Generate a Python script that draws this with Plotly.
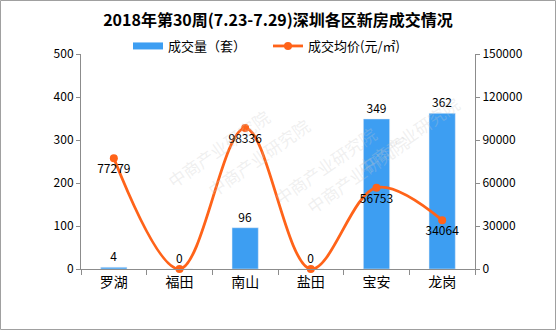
import plotly.graph_objects as go

districts = ["罗湖", "福田", "南山", "盐田", "宝安", "龙岗"]
volume = [4, 0, 96, 0, 349, 362]            # 成交量（套）
avg_price = [77279, 0, 98336, 0, 56753, 34064]  # 成交均价(元/㎡)

W, H = 556, 330
ml, mr, mt, mb = 81, 81, 54, 61
pw, ph = W - ml - mr, H - mt - mb

font_main = "Noto Sans CJK SC, Liberation Serif, serif"
axis_color = "#8c8c8c"
bar_color = "#3d9ef2"
line_color = "#ff6319"

fig = go.Figure()

fig.add_trace(go.Bar(
    x=districts, y=volume, name="成交量（套）", showlegend=False,
    marker_color=bar_color, width=0.4,
    text=[str(v) for v in volume], textposition="outside",
    textfont=dict(size=12, color="#000000"),
    cliponaxis=False,
    yaxis="y",
))
# legend key for the bars drawn as a wide flat swatch
fig.add_trace(go.Scatter(
    x=[None], y=[None], name="成交量（套）", mode="lines",
    line=dict(color=bar_color, width=7), yaxis="y",
))

fig.add_trace(go.Scatter(
    x=districts, y=avg_price, name="成交均价(元/㎡)",
    mode="lines+markers+text",
    line=dict(color=line_color, width=2.8, shape="spline", smoothing=1.0),
    marker=dict(color=line_color, size=8),
    text=[str(v) if v else "" for v in avg_price],
    textposition="bottom center",
    textfont=dict(size=12, color="#000000"),
    cliponaxis=False,
    yaxis="y2",
))

# light watermark text
wm = [(0.20, 0.78), (0.62, 0.70), (0.98, 0.62), (0.45, 0.30), (0.85, 0.22)]
annotations = []
for x, y in wm:
    annotations.append(dict(
        x=x, y=y, xref="paper", yref="paper", text="中商产业研究院",
        showarrow=False, textangle=-35,
        font=dict(size=17, color="rgba(200,200,200,0.28)", family=font_main),
    ))

fig.update_layout(
    width=W, height=H,
    margin=dict(l=ml, r=mr, t=mt, b=mb),
    paper_bgcolor="white", plot_bgcolor="white",
    font=dict(family=font_main, size=12, color="#000000"),
    title=dict(text="<b>2018年第30周(7.23-7.29)深圳各区新房成交情况</b>",
               x=0.5, xanchor="center", y=1 - 20 / H, yanchor="middle",
               font=dict(size=16, color="#000000")),
    showlegend=True,
    legend=dict(orientation="h", x=(128 - ml) / pw, xanchor="left", y=1 + 8 / ph, yanchor="middle",
                font=dict(size=13), bgcolor="rgba(0,0,0,0)", itemwidth=30,
                entrywidth=95, traceorder="normal"),
    bargap=0.6,
    xaxis=dict(
        type="category", showline=True, linecolor=axis_color, linewidth=1,
        ticks="outside", tickson="boundaries", ticklen=5, tickcolor=axis_color,
        showgrid=False, tickfont=dict(size=14), zeroline=False,
    ),
    yaxis=dict(
        range=[0, 500], dtick=100, showline=True, linecolor=axis_color,
        ticks="outside", ticklen=4, tickcolor=axis_color, showgrid=False,
        zeroline=False, tickfont=dict(size=12),
    ),
    yaxis2=dict(
        range=[0, 150000], dtick=30000, tickformat="d", overlaying="y", side="right",
        showline=True, linecolor=axis_color, ticks="outside", ticklen=4,
        tickcolor=axis_color, showgrid=False, zeroline=False, tickfont=dict(size=12),
    ),
    annotations=annotations,
    shapes=[dict(type="rect", xref="paper", yref="paper",
                 x0=-ml / pw + 0.5 / pw, x1=1 + mr / pw - 0.5 / pw,
                 y0=-mb / ph + 0.5 / ph, y1=1 + mt / ph - 0.5 / ph,
                 line=dict(color="#a0a0a0", width=1), layer="below")],
)

fig.write_html("out.html")
